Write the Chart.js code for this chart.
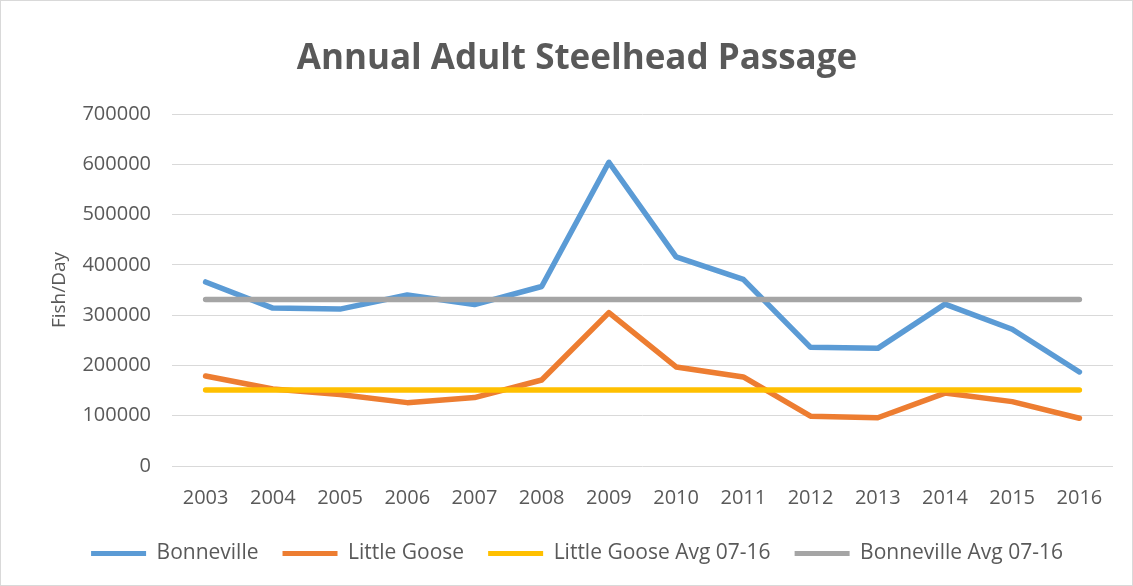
<!DOCTYPE html>
<html>
<head>
<meta charset="utf-8">
<script src="https://cdn.jsdelivr.net/npm/chart.js@4.4.1/dist/chart.umd.min.js"></script>
<style>
  html, body { margin: 0; padding: 0; background: #fff; }
  #wrap { width: 1133px; height: 586px; box-sizing: border-box; border: 1px solid #d9d9d9; position: relative; }
  canvas { display: block; }
</style>
</head>
<body>
<div id="wrap"><canvas id="c" width="1131" height="584"></canvas></div>
<script>
const years = ['2003','2004','2005','2006','2007','2008','2009','2010','2011','2012','2013','2014','2015','2016'];
const bonneville = [366000, 314000, 312000, 340000, 321000, 357000, 604000, 416000, 371000, 236000, 234000, 322000, 272000, 187000];
const littleGoose = [179000, 153000, 142000, 126000, 136000, 171000, 305000, 197000, 177000, 99000, 96000, 145000, 128000, 95000];
const littleGooseAvg = [151000, 151000, 151000, 151000, 151000, 151000, 151000, 151000, 151000, 151000, 151000, 151000, 151000, 151000];
const bonnevilleAvg = [331000, 331000, 331000, 331000, 331000, 331000, 331000, 331000, 331000, 331000, 331000, 331000, 331000, 331000];
const yTicks = [0, 100000, 200000, 300000, 400000, 500000, 600000, 700000];

const FONT = '"Open Sans", "DejaVu Sans", sans-serif';
const TXT = '#595959';

function ds(label, data, color) {
  return { label, data, borderColor: color, backgroundColor: color, borderWidth: 5.5,
           pointRadius: 0, pointHoverRadius: 0, tension: 0, fill: false,
           borderCapStyle: 'round', borderJoinStyle: 'round' };
}

new Chart(document.getElementById('c'), {
  type: 'line',
  data: {
    labels: years,
    datasets: [
      ds('Bonneville', bonneville, '#5B9BD5'),
      ds('Little Goose', littleGoose, '#ED7D31'),
      ds('Little Goose Avg 07-16', littleGooseAvg, '#FFC000'),
      ds('Bonneville Avg 07-16', bonnevilleAvg, '#A5A5A5')
    ].map((d, i) => Object.assign(d, { order: [3,2,1,0][i] }))
  },
  options: {
    responsive: false,
    animation: false,
    layout: { padding: { left: 40, right: 19, top: 0, bottom: 11 } },
    plugins: {
      title: {
        display: true,
        text: 'Annual Adult Steelhead Passage',
        color: TXT,
        font: { family: FONT, size: 35, weight: 'bold' },
        padding: { top: 37, bottom: 34 }
      },
      legend: {
        position: 'bottom',
        labels: {
          color: TXT,
          font: { family: FONT, size: 21 },
          boxWidth: 55,
          boxHeight: 5,
          padding: 24,
          generateLabels(chart) {
            return chart.data.datasets.map((d, i) => ({
              text: d.label, fillStyle: d.borderColor, strokeStyle: d.borderColor,
              lineWidth: 0, hidden: false, datasetIndex: i, fontColor: TXT
            }));
          }
        }
      },
      tooltip: { enabled: false }
    },
    scales: {
      x: {
        offset: true,
        grid: { display: false, drawTicks: false },
        border: { display: false },
        ticks: { color: TXT, font: { family: FONT, size: 20 }, padding: 20, maxRotation: 0, autoSkip: false },
        afterFit(s) { s.height = 53; }
      },
      y: {
        min: 0, max: 700000,
        afterBuildTicks(s) { s.ticks = yTicks.map(v => ({ value: v })); },
        grid: { color: '#d9d9d9', lineWidth: 1, drawTicks: false },
        border: { display: false },
        ticks: { color: TXT, font: { family: FONT, size: 20 }, padding: 21, callback: v => String(v) },
        title: { display: true, text: 'Fish/Day', color: TXT, font: { family: FONT, size: 19 }, padding: { top: 7, bottom: 0 } },
        afterFit(s) { s.width = 131; }
      }
    }
  }
});
</script>
</body>
</html>
